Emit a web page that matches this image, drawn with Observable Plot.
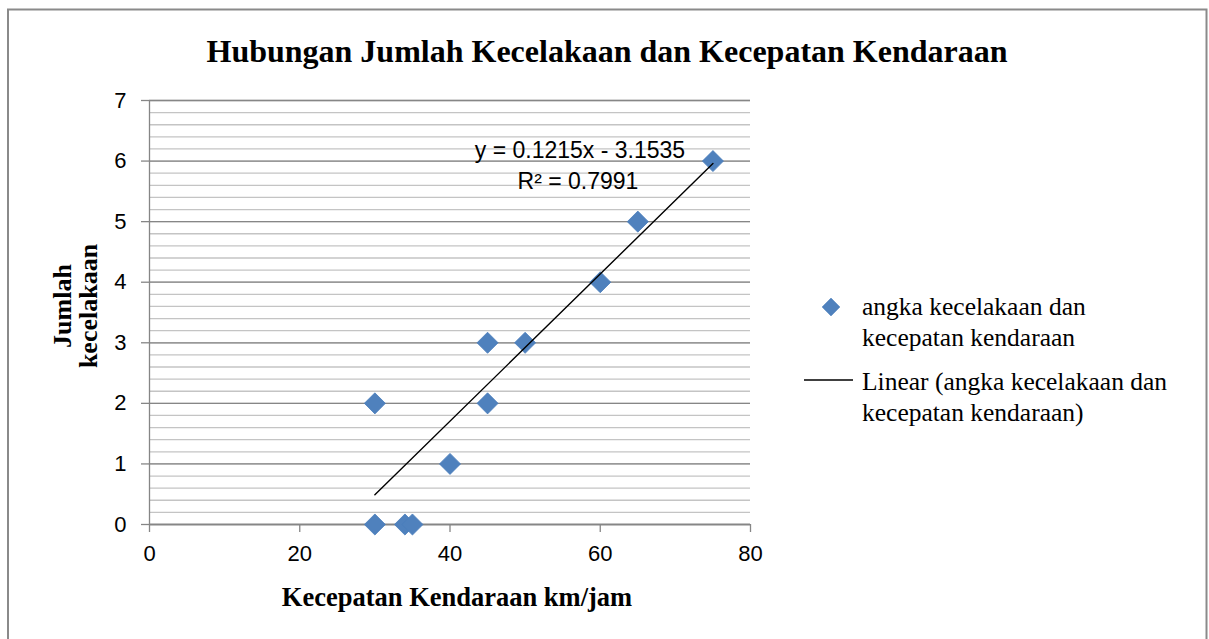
<!DOCTYPE html>
<html>
<head>
<meta charset="utf-8">
<script src="https://cdn.jsdelivr.net/npm/d3@7"></script>
<script src="https://cdn.jsdelivr.net/npm/@observablehq/plot@0.6"></script>
<style>
  html, body { margin: 0; padding: 0; background: #fff; }
  #chart svg { display: block; }
</style>
</head>
<body>
<div id="chart"></div>
<script>
// ---- Data ----
const speeds    = [30, 34, 35, 30, 40, 45, 45, 50, 60, 65, 75];
const accidents = [0, 0, 0, 2, 1, 2, 3, 3, 4, 5, 6];
const trendSlope = 0.1215;
const trendIntercept = -3.1535;
const rSquared = 0.7991;
const xTicks = [0, 20, 40, 60, 80];
const yTicks = [0, 1, 2, 3, 4, 5, 6, 7];
const titleText = "Hubungan Jumlah Kecelakaan dan Kecepatan Kendaraan";
const xLabelText = "Kecepatan Kendaraan km/jam";
const yLabelLines = ["Jumlah", "kecelakaan"];
const legendSeries = ["angka kecelakaan dan", "kecepatan kendaraan"];
const legendTrend = ["Linear (angka kecelakaan dan", "kecepatan kendaraan)"];

// ---- Derived tables ----
const points = speeds.map((s, i) => ({speed: s, acc: accidents[i]}));
const trend = d3.extent(speeds).map(s => ({speed: s, acc: trendSlope * s + trendIntercept}));
const yMinor = d3.range(0, 36).map(i => i / 5);

const W = 1209, H = 639;
const M = {left: 149, right: 459, top: 100, bottom: 115};
const axisColor = "#868686";
const blue = "#4f81bd";

const chart = Plot.plot({
  width: W, height: H,
  marginLeft: M.left, marginRight: M.right, marginTop: M.top, marginBottom: M.bottom,
  style: {fontFamily: "'Liberation Sans', Arial, sans-serif", fontSize: "22px", color: "#000", background: "transparent"},
  x: {domain: [0, 80]},
  y: {domain: [0, 7]},
  marks: [
    Plot.gridY(yMinor, {stroke: "#c4c4c4", strokeOpacity: 1, strokeWidth: 1.3}),
    Plot.gridY(yTicks, {stroke: axisColor, strokeOpacity: 1, strokeWidth: 1.3}),
    Plot.axisY(yTicks, {tickSize: 8, tickPadding: 15, stroke: axisColor, strokeOpacity: 1, strokeWidth: 1.3, fill: "#000", label: null, tickFormat: d => String(d), fontSize: 22}),
    Plot.axisX(xTicks, {tickSize: 8, tickPadding: 13, stroke: axisColor, strokeOpacity: 1, strokeWidth: 1.3, fill: "#000", label: null, tickFormat: d => String(d), fontSize: 22}),
    Plot.ruleX([0], {stroke: axisColor, strokeWidth: 1.3}),
    Plot.ruleY([0], {stroke: axisColor, strokeWidth: 1.3}),
    Plot.dot(points, {x: "speed", y: "acc", symbol: "diamond2", r: 9.5, fill: blue, stroke: "#4a7ebb", strokeWidth: 0.8}),
    Plot.line(trend, {x: "speed", y: "acc", stroke: "#000", strokeWidth: 1.4})
  ]
});

document.getElementById("chart").appendChild(chart);
const svg = d3.select(chart);

// Outer chart border
svg.insert("rect", ":first-child")
  .attr("x", 8).attr("y", 9.5).attr("width", 1198.5).attr("height", 660)
  .attr("fill", "#fff").attr("stroke", "#8a8a8a").attr("stroke-width", 2);

const serif = "'Liberation Serif', 'Times New Roman', serif";
const sans = "'Liberation Sans', Arial, sans-serif";

// Title
svg.append("text").text(titleText)
  .attr("x", 607).attr("y", 62).attr("text-anchor", "middle")
  .attr("font-family", serif).attr("font-weight", "bold").attr("font-size", 32).attr("fill", "#000");

// X axis title
svg.append("text").text(xLabelText)
  .attr("x", 457).attr("y", 606).attr("text-anchor", "middle")
  .attr("font-family", serif).attr("font-weight", "bold").attr("font-size", 26.5).attr("fill", "#000");

// Y axis title (two lines, rotated)
const yT = svg.append("text")
  .attr("transform", "translate(0,306) rotate(-90)")
  .attr("text-anchor", "middle")
  .attr("font-family", serif).attr("font-weight", "bold").attr("font-size", 26).attr("fill", "#000");
yLabelLines.forEach((t, i) => {
  yT.append("tspan").attr("x", 0).attr("y", 71 + i * 26).text(t);
});

// Trendline equation
svg.append("text").text(`y = ${trendSlope}x - ${Math.abs(trendIntercept)}`)
  .attr("x", 580).attr("y", 158).attr("text-anchor", "middle")
  .attr("font-family", sans).attr("font-size", 23).attr("fill", "#000");
svg.append("text").text(`R² = ${rSquared}`)
  .attr("x", 578).attr("y", 189).attr("text-anchor", "middle")
  .attr("font-family", sans).attr("font-size", 23).attr("fill", "#000");

// Legend
const lg = svg.append("g").attr("text-anchor", "start");
const dsym = d3.symbol(d3.symbolDiamond2, Math.PI * 8 * 8)();
lg.append("path").attr("d", dsym).attr("transform", "translate(831,307)")
  .attr("fill", blue).attr("stroke", "#4a7ebb").attr("stroke-width", 0.6);
legendSeries.forEach((t, i) => {
  lg.append("text").text(t).attr("x", 862).attr("y", 315 + i * 31).attr("text-anchor", "start")
    .attr("font-family", serif).attr("font-size", 25.5).attr("fill", "#000");
});
lg.append("line").attr("x1", 804).attr("x2", 853).attr("y1", 380).attr("y2", 380)
  .attr("stroke", "#000").attr("stroke-width", 1.4);
legendTrend.forEach((t, i) => {
  lg.append("text").text(t).attr("x", 862).attr("y", 390 + i * 31).attr("text-anchor", "start")
    .attr("font-family", serif).attr("font-size", 25.5).attr("fill", "#000");
});
</script>
</body>
</html>
